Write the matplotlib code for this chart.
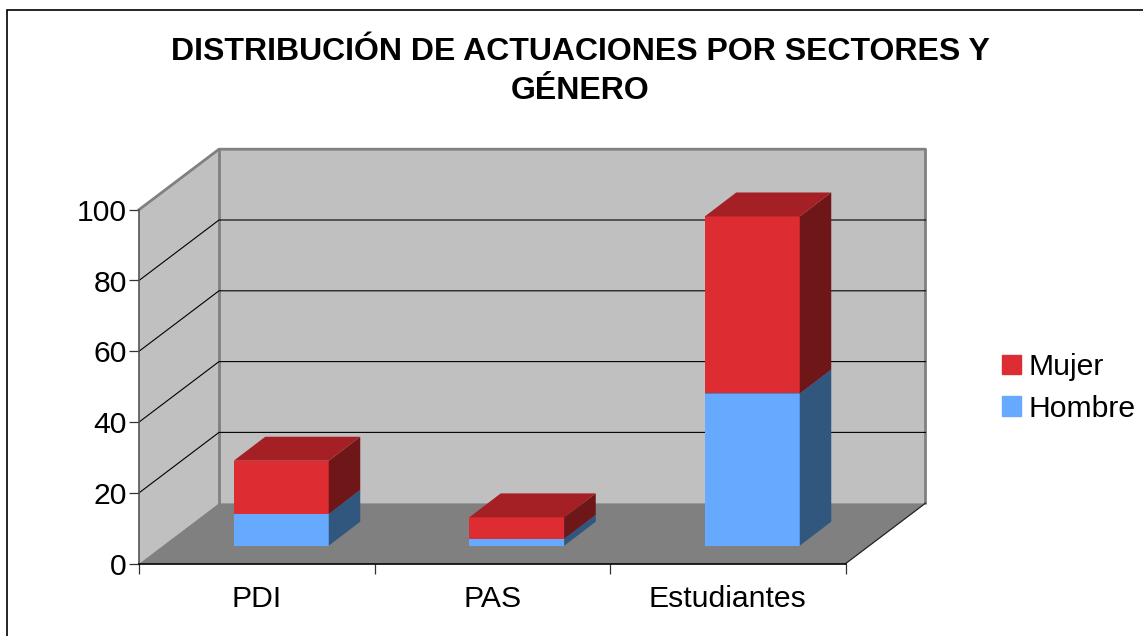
#!/usr/bin/env python3
"""Stacked pseudo-3D column chart: actuaciones por sector y genero."""

import matplotlib
matplotlib.use("Agg")
import matplotlib.pyplot as plt
from matplotlib.patches import Polygon, Rectangle

plt.rcParams["font.family"] = "Liberation Sans"

TITLE = "DISTRIBUCIÓN DE ACTUACIONES POR SECTORES Y\nGÉNERO"
CATEGORIES = ["PDI", "PAS", "Estudiantes"]
HOMBRE = [9, 2, 43]
MUJER = [15, 6, 50]
Y_TICKS = [0, 20, 40, 60, 80, 100]

W, H = 1143, 636
X0, X1 = 139, 845.5    # front plane, px
Y0, Y1 = 563.7, 209.7
PX_CAT = (X1 - X0) / len(CATEGORIES)
PX_VAL = (Y0 - Y1) / 100

# depth of the box and of the bars, in data units
WALL_DX, WALL_DY = 80 / PX_CAT, 60.5 / PX_VAL
BAR_DX, BAR_DY = 31.5 / PX_CAT, 24 / PX_VAL
SHIFT_X, SHIFT_Y = 24.5 / PX_CAT, 18 / PX_VAL
BAR_W = 95 / PX_CAT

COL_H = ("#66aaff", "#32577f", "#32577f")
COL_M = ("#de2c33", "#6f1619", "#a42024")


def poly(ax, pts, color, z, edge="none", lw=0):
    ax.add_patch(Polygon(pts, closed=True, facecolor=color, edgecolor=edge,
                         linewidth=lw, zorder=z, clip_on=False))


def draw_segment(ax, x, bottom, height, cols, z):
    """Front, side and top faces of one stacked box."""
    left, right = x - BAR_W / 2 + SHIFT_X, x + BAR_W / 2 + SHIFT_X
    b, t = bottom + SHIFT_Y, bottom + height + SHIFT_Y
    poly(ax, [(left, b), (right, b), (right, t), (left, t)], cols[0], z)
    poly(ax, [(right, b), (right + BAR_DX, b + BAR_DY),
              (right + BAR_DX, t + BAR_DY), (right, t)], cols[1], z)
    poly(ax, [(left, t), (right, t), (right + BAR_DX, t + BAR_DY),
              (left + BAR_DX, t + BAR_DY)], cols[2], z)


fig = plt.figure(figsize=(W / 100, H / 100), dpi=100, facecolor="white")
fig.add_artist(Rectangle((6.5 / W, -0.01), (W + 10) / W, 1.01 - 9.5 / H,
                         transform=fig.transFigure, fill=False,
                         edgecolor="black", linewidth=1.2))
ax = fig.add_axes([X0 / W, 1 - Y0 / H, (X1 - X0) / W, (Y0 - Y1) / H])
ax.set_xlim(0, len(CATEGORIES))
ax.set_ylim(0, 100)
ax.patch.set_visible(False)
for name in ("top", "right"):
    ax.spines[name].set_visible(False)
ax.spines["left"].set_color("#555555")
ax.spines["left"].set_linewidth(1.2)
ax.spines["bottom"].set_color("black")
ax.spines["bottom"].set_linewidth(1.2)
ax.spines["left"].set_zorder(6)
ax.spines["bottom"].set_zorder(6)

n = len(CATEGORIES)
wall = "#c0c0c0"
poly(ax, [(WALL_DX, WALL_DY), (n + WALL_DX, WALL_DY),
          (n + WALL_DX, 100 + WALL_DY), (WALL_DX, 100 + WALL_DY)], wall, 1)
poly(ax, [(0, 0), (WALL_DX, WALL_DY), (WALL_DX, 100 + WALL_DY), (0, 100)], wall, 1)
poly(ax, [(0, 0), (n, 0), (n + WALL_DX, WALL_DY), (WALL_DX, WALL_DY)], "#808080", 2)

# box outline
ax.plot([0, WALL_DX, n + WALL_DX, n + WALL_DX], [100, 100 + WALL_DY, 100 + WALL_DY, WALL_DY],
        color="#808080", lw=2, zorder=3, clip_on=False)
ax.plot([WALL_DX, WALL_DX], [WALL_DY, 100 + WALL_DY], color="#808080", lw=2,
        zorder=3, clip_on=False)
ax.plot([n, n + WALL_DX], [0, WALL_DY], color="#222222", lw=0.9, zorder=3, clip_on=False)

# gridlines along side wall and back wall
for v in Y_TICKS[1:-1]:
    ax.plot([0, WALL_DX, n + WALL_DX], [v, v + WALL_DY, v + WALL_DY],
            color="black", lw=0.8, zorder=3, clip_on=False)

for i, (h, m) in enumerate(zip(HOMBRE, MUJER)):
    draw_segment(ax, i + 0.5, 0, h, COL_H, 4)
    draw_segment(ax, i + 0.5, h, m, COL_M, 5)

ax.set_yticks(Y_TICKS)
ax.set_xticks(range(n + 1))
ax.set_xticklabels([])
ax.set_xticks([i + 0.5 for i in range(n)], minor=True)
ax.set_xticklabels(CATEGORIES, minor=True, fontsize=21.7)
ax.tick_params(axis="x", which="minor", length=0, pad=15)
ax.tick_params(axis="x", which="major", length=7, width=0.9, color="#333333")
ax.tick_params(axis="y", length=7, width=0.9, color="#333333", labelsize=21.7, pad=1.8)

fig.text(580.5 / W, 1 - 52 / H, TITLE.split("\n")[0], ha="center", va="center",
         fontsize=23, fontweight="bold")
fig.text(580.5 / W, 1 - 91 / H, TITLE.split("\n")[1], ha="center", va="center",
         fontsize=23, fontweight="bold")

# legend, series drawn in stacking order (top first)
handles = [Rectangle((0, 0), 1, 1, color=COL_M[0]), Rectangle((0, 0), 1, 1, color=COL_H[0])]
fig.legend(handles, ["Mujer", "Hombre"], loc="center left",
           bbox_to_anchor=(995.5 / W, 1 - 388 / H), frameon=False, fontsize=21.7,
           handlelength=0.63, handleheight=0.63, handletextpad=0.25,
           labelspacing=0.46, borderpad=0.2, borderaxespad=0)

fig.savefig("out.png", dpi=100)
